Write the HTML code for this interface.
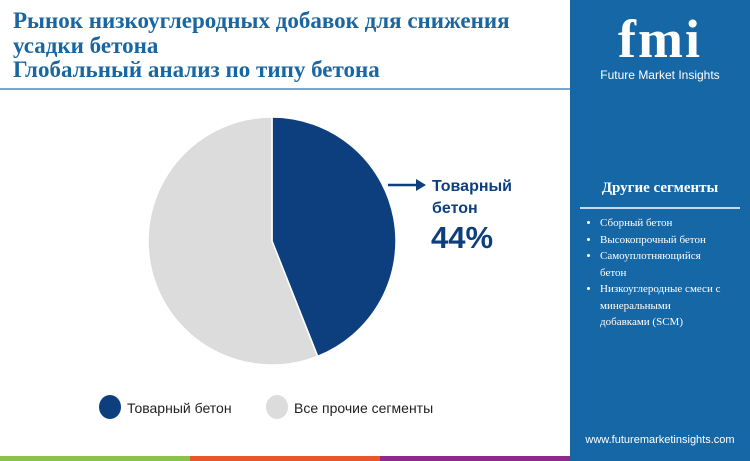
<!DOCTYPE html>
<html><head><meta charset="utf-8"><style>
body{margin:0;width:750px;height:461px;overflow:hidden;background:#fff;position:relative;font-family:"Liberation Sans",sans-serif}
.t{position:absolute;left:13px;top:9px;font-family:"Liberation Serif",serif;font-weight:bold;color:#1a66a0;font-size:23px;line-height:24.5px}
.side{position:absolute;left:570px;top:0;width:180px;height:456px;background:#1567a6;color:#fff}
ul{margin:0;padding-left:30px;font-family:"Liberation Serif",serif;font-size:11px;line-height:16.5px}
li{margin:0}
</style></head><body>
<div class="t">Рынок низкоуглеродных добавок для снижения<br>усадки бетона<br>Глобальный анализ по типу бетона</div>
<div style="position:absolute;left:0;top:88px;width:570px;height:2px;background:#7aa7cc"></div>
<svg id="chart" width="570" height="456" style="position:absolute;left:0;top:0">
<g id="slices"></g>
<line x1="388" y1="185" x2="418" y2="185" stroke="#0d3f7f" stroke-width="2.5"/>
<polygon points="416,179 426,185 416,191" fill="#0d3f7f"/>
<text x="432" y="191" font-size="16" font-weight="bold" fill="#0d3f7f">Товарный</text>
<text x="432" y="213" font-size="16" font-weight="bold" fill="#0d3f7f">бетон</text>
<text id="pct" x="431" y="248" font-size="31" font-weight="bold" fill="#0d3f7f"></text>
<ellipse cx="110" cy="407" rx="11" ry="12" fill="#0d3f7f"/>
<text x="127" y="413" font-size="14" fill="#222">Товарный бетон</text>
<ellipse cx="277" cy="407" rx="11" ry="12" fill="#dcdcdc"/>
<text x="294" y="413" font-size="14" fill="#222">Все прочие сегменты</text>
</svg>
<div class="side">
<div style="position:absolute;left:0;top:12px;width:180px;text-align:center;font-family:'Liberation Serif',serif;font-weight:bold;font-size:54px;line-height:54px;letter-spacing:2px">fmi</div>
<div style="position:absolute;left:0;top:68px;width:180px;text-align:center;font-size:12px">Future Market Insights</div>
<div style="position:absolute;left:0;top:180px;width:180px;text-align:center;font-family:'Liberation Serif',serif;font-weight:bold;font-size:15px">Другие сегменты</div>
<div style="position:absolute;left:10px;top:207px;width:160px;height:2px;background:#c8daea"></div>
<ul style="position:absolute;left:0;top:215px;width:142px">
<li>Сборный бетон</li>
<li>Высокопрочный бетон</li>
<li>Самоуплотняющийся<br>бетон</li>
<li>Низкоуглеродные смеси с минеральными<br>добавками (SCM)</li>
</ul>
<div style="position:absolute;left:0;top:434px;width:180px;text-align:center;font-size:11px">www.futuremarketinsights.com</div>
</div>
<div style="position:absolute;left:0;top:456px;width:190px;height:5px;background:#8bc34a"></div>
<div style="position:absolute;left:190px;top:456px;width:190px;height:5px;background:#e8562a"></div>
<div style="position:absolute;left:380px;top:456px;width:190px;height:5px;background:#8e2a8c"></div>
<div style="position:absolute;left:570px;top:456px;width:180px;height:5px;background:#1567a6"></div>
<script>
const categories=["Товарный бетон","Все прочие сегменты"];
const values=[44,56];
const colors=["#0d3f7f","#dcdcdc"];
const cx=272,cy=241,r=124;
const g=document.getElementById('slices');
const total=values.reduce((a,b)=>a+b,0);
let a0=0;
values.forEach((v,i)=>{
  const a1=a0+v/total*2*Math.PI;
  const x0=cx+r*Math.sin(a0),y0=cy-r*Math.cos(a0),x1=cx+r*Math.sin(a1),y1=cy-r*Math.cos(a1);
  const p=document.createElementNS('http://www.w3.org/2000/svg','path');
  p.setAttribute('d',`M${cx},${cy}L${x0},${y0}A${r},${r} 0 ${a1-a0>Math.PI?1:0} 1 ${x1},${y1}Z`);
  p.setAttribute('fill',colors[i]);p.setAttribute('stroke','#fff');p.setAttribute('stroke-width','1.5');
  
  
  g.appendChild(p);a0=a1;
});
document.getElementById('pct').textContent=Math.round(values[0]/total*100)+'%';
</script>
</body></html>
